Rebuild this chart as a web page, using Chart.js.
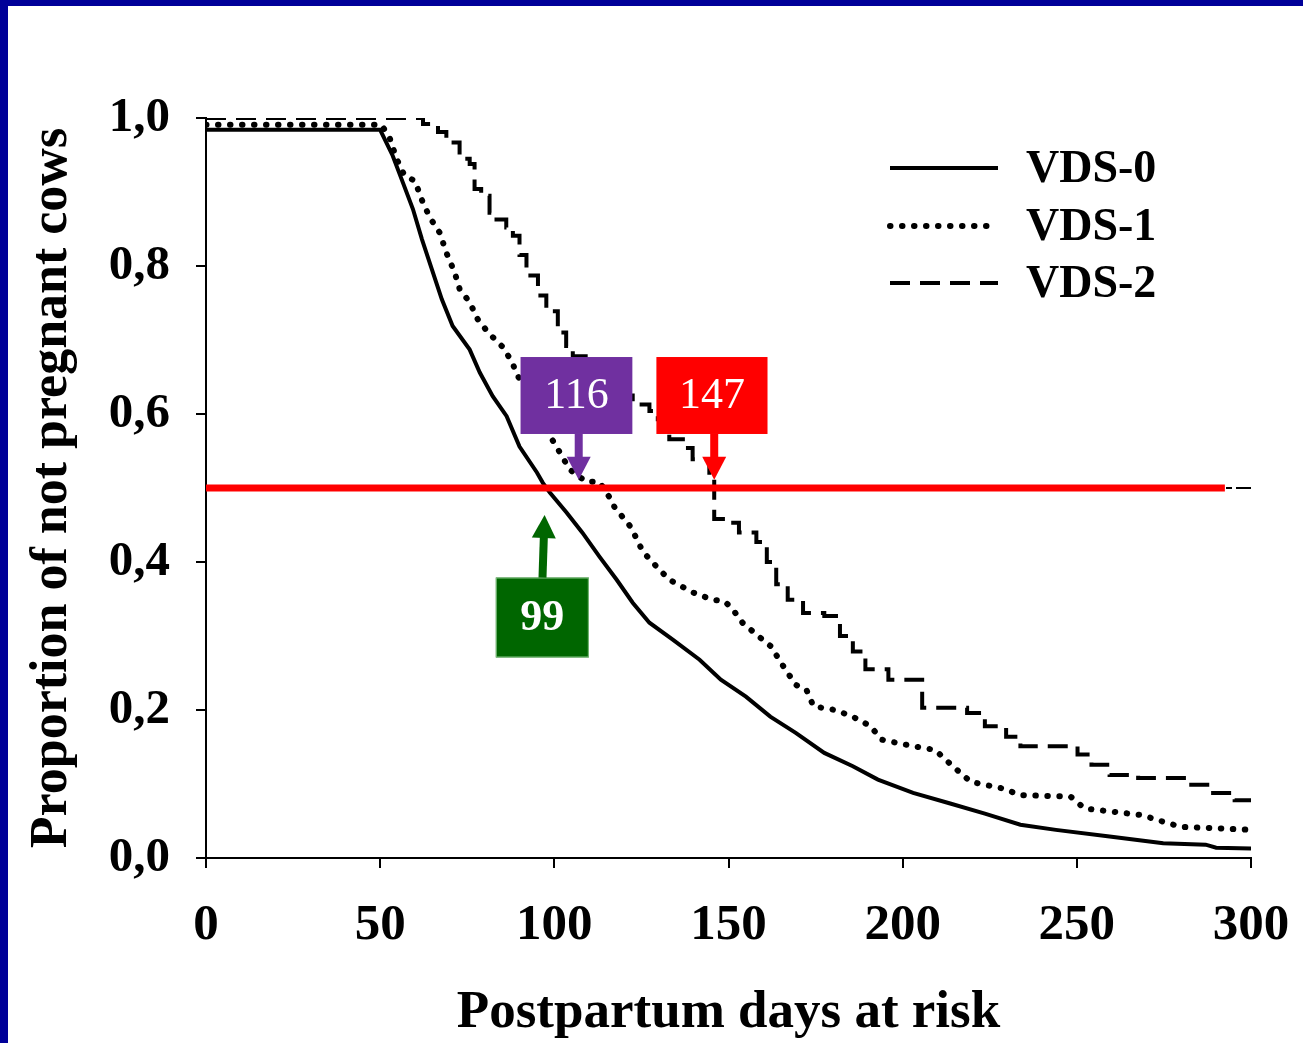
<!DOCTYPE html>
<html>
<head>
<meta charset="utf-8">
<title>Postpartum days at risk</title>
<script src="https://cdn.jsdelivr.net/npm/chart.js@4.4.1/dist/chart.umd.min.js"></script>
<style>
  html, body { margin: 0; padding: 0; background: #fff; overflow: hidden; }
  canvas { display: block; }
</style>
</head>
<body>
<canvas id="chart" width="1303" height="1043"></canvas>
<script>
// axis labels
const xTickLabels = ["0", "50", "100", "150", "200", "250", "300"];
const yTickLabels = ["0,0", "0,2", "0,4", "0,6", "0,8", "1,0"];
const seriesNames = ["VDS-0", "VDS-1", "VDS-2"];

// VDS-0 (solid)
const vds0Days = [0, 50, 53.6, 56.5, 59.4, 62, 64.8, 67.7, 70.8, 75.7, 78.6, 82.3, 86.3, 90, 95, 96.7, 98.7, 103.5, 108, 113, 117.9, 122.5, 127.3, 134, 141.7, 147.8, 155, 162, 169.3, 177.5, 185.7, 192.9, 203, 213.4, 223.6, 233.8, 244, 259.4, 274.8, 287, 290, 300];
const vds0Surv = [0.984, 0.984, 0.949, 0.913, 0.877, 0.836, 0.796, 0.755, 0.719, 0.687, 0.656, 0.624, 0.597, 0.556, 0.521, 0.507, 0.494, 0.467, 0.44, 0.407, 0.376, 0.345, 0.318, 0.295, 0.268, 0.241, 0.218, 0.191, 0.169, 0.142, 0.124, 0.106, 0.088, 0.074, 0.06, 0.045, 0.038, 0.029, 0.02, 0.018, 0.014, 0.013];

// VDS-1 (dotted)
const vds1Days = [0, 50.4, 52.8, 54.7, 57, 60, 61.9, 64.2, 67.1, 69, 71.4, 72.8, 75.7, 78, 81, 85.3, 88, 89, 92, 95, 97.5, 100.6, 104.4, 109, 113, 115.9, 117.3, 122, 125.4, 129.3, 133, 139.7, 145.4, 148.8, 150.9, 154, 158, 162.2, 165.2, 169.3, 172.4, 174.4, 180.6, 185.7, 190.8, 193.9, 203.1, 209.3, 214.4, 219.5, 228.7, 233.8, 248.2, 252.2, 259.4, 268.7, 274.8, 279.9, 291.2, 300];
const vds1Surv = [0.991, 0.991, 0.972, 0.945, 0.922, 0.915, 0.89, 0.866, 0.845, 0.818, 0.791, 0.769, 0.751, 0.728, 0.71, 0.69, 0.669, 0.656, 0.63, 0.6, 0.58, 0.556, 0.525, 0.509, 0.508, 0.487, 0.474, 0.447, 0.414, 0.394, 0.376, 0.359, 0.349, 0.347, 0.338, 0.318, 0.302, 0.286, 0.263, 0.234, 0.227, 0.205, 0.2, 0.191, 0.178, 0.16, 0.151, 0.146, 0.124, 0.103, 0.094, 0.085, 0.083, 0.067, 0.063, 0.058, 0.049, 0.042, 0.04, 0.038];

// VDS-2 (dashed), value after each step
const vds2Days = [0, 62.3, 66.6, 69, 72.8, 75.7, 77.1, 79, 81.4, 83.4, 86.2, 88.1, 90, 92, 95.3, 97.7, 101, 103.4, 105.3, 109, 113, 117, 122.5, 127.3, 129.7, 133, 136.9, 139.7, 144.5, 145.9, 149.3, 153, 158, 161, 163.7, 167, 171.4, 177.5, 182, 185.7, 189.3, 195.9, 205.6, 218.5, 223.6, 229.7, 233.8, 250.2, 254.2, 259.4, 267.6, 282, 288.1, 295.3, 300];
const vds2Surv = [1.0, 0.992, 0.981, 0.967, 0.945, 0.938, 0.904, 0.895, 0.872, 0.863, 0.852, 0.841, 0.815, 0.787, 0.76, 0.739, 0.71, 0.692, 0.678, 0.66, 0.64, 0.625, 0.613, 0.604, 0.593, 0.566, 0.554, 0.539, 0.516, 0.458, 0.453, 0.44, 0.427, 0.4, 0.37, 0.349, 0.331, 0.327, 0.3, 0.279, 0.255, 0.241, 0.203, 0.196, 0.178, 0.164, 0.151, 0.14, 0.126, 0.112, 0.108, 0.099, 0.088, 0.078, 0.078];

// median marker
const medianLevel = 0.5;
const medianLineEnd = 292.5;
const medianLabels = ["116", "147", "99"];

const toPoints = (days, vals) => days.map((d, i) => ({ x: d, y: vals[i] }));

const FONT = "'Liberation Serif', 'Times New Roman', serif";

// callout boxes, in data units: [dayLeft, dayRight, valTop, valBottom]
const callouts = [
  { text: medianLabels[0], fill: "#7030a0", bold: false, box: [90.3, 122.4, 0.677, 0.573], arrow: [107.0, 0.573, 107.0, 0.511] },
  { text: medianLabels[1], fill: "#ff0000", bold: false, box: [129.3, 161.2, 0.677, 0.573], arrow: [145.9, 0.573, 145.9, 0.511] },
  { text: medianLabels[2], fill: "#006600", bold: true, box: [83.2, 109.9, 0.379, 0.271], arrow: [96.6, 0.379, 97.2, 0.4635], edge: "#7fbf7f" },
];

function drawArrow(g, x1, y1, x2, y2, color) {
  const ang = Math.atan2(y2 - y1, x2 - x1);
  const len = Math.hypot(x2 - x1, y2 - y1);
  g.save();
  g.translate(x1, y1);
  g.rotate(ang);
  g.fillStyle = color;
  g.fillRect(0, -4, len - 22, 8);
  g.beginPath();
  g.moveTo(len, 0);
  g.lineTo(len - 23, -12);
  g.lineTo(len - 23, 12);
  g.closePath();
  g.fill();
  g.restore();
}

const framePlugin = {
  id: "frame",
  beforeDraw(chart) {
    const g = chart.ctx;
    g.save();
    g.fillStyle = "#fff";
    g.fillRect(0, 0, chart.width, chart.height);
    g.fillStyle = "#000099";
    g.fillRect(0, 0, chart.width, 6);
    g.fillRect(0, 0, 8, chart.height);
    g.restore();
  },
};

const calloutPlugin = {
  id: "callouts",
  afterDatasetsDraw(chart) {
    const g = chart.ctx;
    const xs = chart.scales.x;
    const ys = chart.scales.y;
    callouts.forEach((c) => {
      const l = xs.getPixelForValue(c.box[0]);
      const r = xs.getPixelForValue(c.box[1]);
      const t = ys.getPixelForValue(c.box[2]);
      const b = ys.getPixelForValue(c.box[3]);
      g.save();
      g.fillStyle = c.fill;
      g.fillRect(l, t, r - l, b - t);
      if (c.edge) {
        g.strokeStyle = c.edge;
        g.lineWidth = 1;
        g.strokeRect(l + 0.5, t + 0.5, r - l - 1, b - t - 1);
      }
      g.fillStyle = "#fff";
      g.font = (c.bold ? "bold " : "") + "44px " + FONT;
      g.textAlign = "center";
      g.textBaseline = "middle";
      g.fillText(c.text, (l + r) / 2, (t + b) / 2 + 1);
      g.restore();
      drawArrow(g,
        xs.getPixelForValue(c.arrow[0]), ys.getPixelForValue(c.arrow[1]),
        xs.getPixelForValue(c.arrow[2]), ys.getPixelForValue(c.arrow[3]), c.fill);
    });
  },
};

// legend drawn by hand so the dotted sample looks like the plot
const legendPlugin = {
  id: "sampleLegend",
  afterDraw(chart) {
    const g = chart.ctx;
    const rows = [168, 226, 283];
    chart.data.datasets.slice(0, 3).forEach((ds, i) => {
      const y = rows[i];
      g.save();
      g.strokeStyle = "#000";
      g.lineWidth = ds.borderWidth;
      g.lineCap = ds.borderCapStyle || "butt";
      g.setLineDash(ds.borderDash || []);
      g.beginPath();
      g.moveTo(890, y);
      g.lineTo(998, y);
      g.stroke();
      g.setLineDash([]);
      g.fillStyle = "#000";
      g.font = "bold 46px " + FONT;
      g.textAlign = "left";
      g.textBaseline = "middle";
      g.fillText(ds.label, 1026, y + 2);
      g.restore();
    });
  },
};

new Chart(document.getElementById("chart"), {
  type: "line",
  data: {
    datasets: [
      {
        label: seriesNames[0],
        data: toPoints(vds0Days, vds0Surv),
        borderColor: "#000",
        borderWidth: 4,
        order: 3,
      },
      {
        label: seriesNames[1],
        data: toPoints(vds1Days, vds1Surv),
        borderColor: "#000",
        borderWidth: 6,
        borderDash: [0.5, 11.5],
        borderCapStyle: "round",
        order: 4,
      },
      {
        label: seriesNames[2],
        data: toPoints(vds2Days, vds2Surv),
        borderColor: "#000",
        borderWidth: 4,
        borderDash: [20, 10],
        stepped: "before",
        order: 5,
      },
      {
        label: "median",
        data: [{ x: 0, y: medianLevel }, { x: medianLineEnd, y: medianLevel }],
        borderColor: "#ff0000",
        borderWidth: 7,
        order: 1,
      },
      {
        label: "median-ref",
        data: [{ x: 0, y: medianLevel }, { x: 300, y: medianLevel }],
        borderColor: "#000",
        borderWidth: 2,
        borderDash: [6, 4, 16, 4],
        order: 2,
      },
    ],
  },
  options: {
    responsive: false,
    animation: false,
    events: [],
    layout: { padding: { top: 118, right: 52, left: 0, bottom: 0 } },
    elements: { point: { radius: 0 }, line: { tension: 0 } },
    plugins: { legend: { display: false }, tooltip: { enabled: false } },
    scales: {
      x: {
        type: "linear",
        min: 0,
        max: 300,
        afterFit: (s) => {
          s.height = 185;
          s.paddingLeft = 0;
          s.paddingRight = 0;
        },
        ticks: {
          stepSize: 50,
          color: "#000",
          padding: 27,
          maxRotation: 0,
          font: { family: FONT, size: 51, weight: "bold" },
          callback: (v, i) => xTickLabels[i],
        },
        grid: { drawOnChartArea: false, tickLength: 10, color: "#000", tickColor: "#000", lineWidth: 2 },
        border: { color: "#000", width: 2 },
        title: {
          display: true,
          text: "Postpartum days at risk",
          color: "#000",
          font: { family: FONT, size: 53, weight: "bold" },
          padding: { top: 0, bottom: -2 },
        },
      },
      y: {
        min: 0,
        max: 1,
        afterFit: (s) => {
          s.width = 206;
          s.paddingTop = 0;
          s.paddingBottom = 0;
        },
        ticks: {
          stepSize: 0.2,
          color: "#000",
          padding: 26,
          font: { family: FONT, size: 49, weight: "bold" },
          callback: (v, i) => yTickLabels[i],
        },
        grid: { drawOnChartArea: false, tickLength: 10, color: "#000", tickColor: "#000", lineWidth: 2 },
        border: { color: "#000", width: 2 },
        title: {
          display: true,
          text: "Proportion of not pregnant cows",
          color: "#000",
          font: { family: FONT, size: 52, weight: "bold" },
          padding: { top: 21, bottom: 0 },
        },
      },
    },
  },
  plugins: [framePlugin, calloutPlugin, legendPlugin],
});
</script>
</body>
</html>
